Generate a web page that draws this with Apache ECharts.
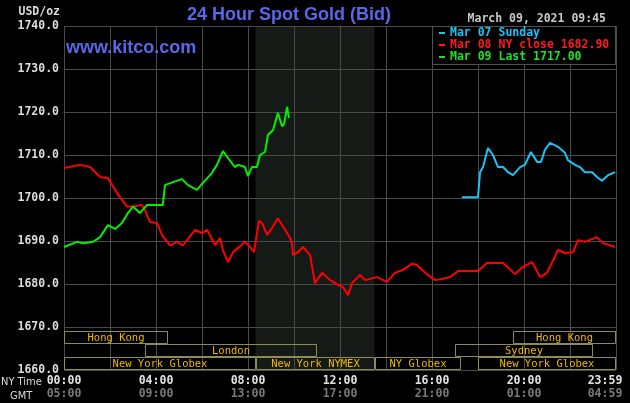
<!DOCTYPE html>
<html>
<head>
<meta charset="utf-8">
<script src="https://cdn.jsdelivr.net/npm/echarts@6/dist/echarts.min.js"></script>
<style>html,body{margin:0;padding:0;background:#000;}#c{width:630px;height:403px;}</style>
</head>
<body>
<div id="c"></div>
<script>
// ---- data (hours in NY time, price USD/oz) ----
const redTimes = [0.0,0.70,1.13,1.57,1.91,2.22,2.43,2.74,3.0,3.39,3.52,3.74,4.04,4.30,4.61,4.91,5.17,5.70,6.0,6.22,6.57,6.78,6.91,7.13,7.35,7.57,7.87,8.09,8.26,8.48,8.61,8.83,9.04,9.30,9.61,9.83,9.91,9.96,10.17,10.39,10.70,10.91,11.22,11.57,11.91,12.13,12.35,12.52,12.87,13.09,13.61,14.04,14.39,14.74,15.13,15.35,15.70,16.13,16.48,16.78,17.13,18.0,18.39,18.83,19.09,19.61,19.96,20.35,20.70,21.0,21.48,21.78,22.13,22.35,22.65,23.17,23.43,23.96];
const redPrices = [1707.0,1707.7,1707.2,1704.9,1704.6,1701.9,1700.2,1698.0,1698.0,1698.4,1697.2,1694.4,1694.2,1691.0,1689.0,1689.8,1689.0,1692.6,1691.8,1692.6,1689.0,1690.7,1687.9,1685.1,1687.4,1688.4,1689.8,1688.6,1687.4,1694.7,1694.2,1691.4,1693.0,1695.3,1692.6,1690.7,1689.5,1686.7,1687.4,1688.6,1686.7,1680.2,1682.6,1680.9,1679.8,1679.3,1677.4,1680.2,1682.1,1680.9,1681.6,1680.5,1682.6,1683.3,1684.7,1684.4,1682.6,1680.9,1681.2,1681.6,1683.0,1683.0,1684.9,1684.9,1684.9,1682.3,1684.0,1685.1,1681.6,1682.6,1687.9,1687.2,1687.4,1690.2,1689.8,1690.9,1689.5,1688.6];
const greenTimes = [0.0,0.57,0.83,1.26,1.57,1.91,2.22,2.52,2.78,3.0,3.30,3.61,4.30,4.39,4.74,5.13,5.39,5.78,6.04,6.43,6.65,6.91,7.13,7.43,7.57,7.87,8.0,8.17,8.39,8.52,8.74,8.87,9.09,9.30,9.48,9.57,9.70,9.78];
const greenPrices = [1688.6,1689.8,1689.5,1689.8,1690.9,1693.7,1692.8,1694.2,1696.5,1698.0,1696.5,1698.4,1698.4,1703.0,1703.7,1704.4,1703.0,1701.9,1703.5,1705.8,1707.7,1710.9,1709.3,1707.2,1707.7,1707.2,1705.1,1707.2,1707.2,1710.0,1710.7,1714.7,1715.8,1719.8,1716.7,1717.2,1721.2,1718.6];
const cyanTimes = [17.30,18.0,18.09,18.22,18.43,18.65,18.87,19.09,19.30,19.52,19.83,20.04,20.30,20.57,20.74,20.91,21.13,21.48,21.78,21.91,22.22,22.43,22.65,22.96,23.17,23.39,23.65,23.96];
const cyanPrices = [1700.2,1700.2,1706.0,1707.2,1711.6,1710.0,1707.2,1707.2,1706.0,1705.3,1707.2,1707.7,1710.7,1708.4,1708.4,1711.2,1712.8,1711.9,1710.5,1708.8,1707.7,1707.2,1706.0,1706.0,1704.9,1704.0,1705.3,1706.0];

const seriesNames = ['Mar 07 Sunday', 'Mar 08 NY close 1682.90', 'Mar 09 Last 1717.00'];

const sessionNames = ['Hong Kong','London','New York Globex','New York NYMEX','NY Globex','Hong Kong','Sydney','New York Globex'];
const sessionStart = [0, 3.5, 0, 8.33, 13.5, 19.5, 17.0, 18.0];
const sessionEnd   = [4.5, 11.0, 8.33, 13.5, 17.25, 24.0, 23.0, 24.0];
const sessionRow   = [0, 1, 2, 2, 2, 0, 1, 2];

const nymexShade = [[8.33, 13.5]];

const yMin = 1660, yMax = 1740, yStep = 10;
const xMin = 0, xMax = 24, xStep = 2;

// ---- build ----
const pair = (t, p) => t.map((v, i) => [v, p[i]]);
const pad = n => (n < 10 ? '0' : '') + n;
const MONO = '"DejaVu Sans Mono", monospace';
const COND = '"DejaVu Sans Condensed", "DejaVu Sans", sans-serif';

const chart = echarts.init(document.getElementById('c'), null, {renderer: 'canvas'});

const option = {
  backgroundColor: '#000',
  animation: false,
  grid: {left: 64, right: 14, top: 26, bottom: 33, containLabel: false, outerBoundsMode: 'none'},
  xAxis: {
    type: 'value', min: xMin, max: xMax, interval: xStep, z: 1,
    axisLine: {show: false}, axisTick: {show: false},
    splitLine: {show: true, lineStyle: {color: '#4a4a4a', width: 1}},
    axisLabel: {
      margin: 5, showMinLabel: true, showMaxLabel: true, hideOverlap: false,
      formatter: function (v) {
        if (v % 4 !== 0 && v !== 24) return '';
        if (v === 24) return '{la|23:59}\n{ga|04:59}';
        return '{n|' + pad(v) + ':00}\n{g|' + pad((v + 5) % 24) + ':00}';
      },
      rich: {
        n: {fontFamily: MONO, fontSize: 11.5, fontWeight: 'bold', color: '#e2e2e2', lineHeight: 13},
        g: {fontFamily: MONO, fontSize: 11.5, fontWeight: 'bold', color: '#7a7a7a', lineHeight: 13},
        la: {fontFamily: MONO, fontSize: 11.5, fontWeight: 'bold', color: '#e2e2e2', lineHeight: 13, padding: [0, 22, 0, 0]},
        ga: {fontFamily: MONO, fontSize: 11.5, fontWeight: 'bold', color: '#7a7a7a', lineHeight: 13, padding: [0, 22, 0, 0]}
      }
    }
  },
  yAxis: {
    type: 'value', min: yMin, max: yMax, interval: yStep, z: 1,
    axisLine: {show: false}, axisTick: {show: false},
    splitLine: {show: true, lineStyle: {color: '#4a4a4a', width: 1}},
    axisLabel: {
      margin: 5, color: '#dcdcdc', fontFamily: MONO, fontSize: 11.5, fontWeight: 'bold',
      formatter: v => v.toFixed(1)
    }
  },
  legend: {
    orient: 'vertical', left: 439, top: 27, padding: 0, itemGap: 0, z: 10,
    icon: 'rect', itemWidth: 6, itemHeight: 2,
    textStyle: {fontFamily: MONO, fontSize: 11.5, fontWeight: 'bold', lineHeight: 12},
    data: [
      {name: seriesNames[0], textStyle: {color: '#18c4f4'}},
      {name: seriesNames[1], textStyle: {color: '#ff1a1a'}},
      {name: seriesNames[2], textStyle: {color: '#22e022'}}
    ],
    selectedMode: false
  },
  graphic: [
    {type: 'rect', z: 5, shape: {x: 432.5, y: 26.5, width: 183, height: 38}, style: {fill: '#000', stroke: '#505050', lineWidth: 1}},
    {type: 'text', z: 5, style: {text: '24 Hour Spot Gold (Bid)', x: 289, y: 15, align: 'center', verticalAlign: 'middle', fill: '#5868e8', font: 'bold 18px "Liberation Sans", Arial, sans-serif'}},
    {type: 'text', z: 5, style: {text: 'www.kitco.com', x: 66, y: 48, align: 'left', verticalAlign: 'middle', fill: '#5868e8', font: 'bold 18px "Liberation Sans", Arial, sans-serif'}},
    {type: 'text', z: 5, style: {text: 'March 09, 2021 09:45', x: 606, y: 19, align: 'right', verticalAlign: 'middle', fill: '#c8c8c8', font: 'bold 11.5px ' + MONO}},
    {type: 'text', z: 5, style: {text: 'USD/oz', x: 60, y: 12, align: 'right', verticalAlign: 'middle', fill: '#dcdcdc', font: 'bold 11.5px ' + MONO}},
    {type: 'text', z: 5, style: {text: 'NY Time', x: 1, y: 382, align: 'left', verticalAlign: 'middle', fill: '#dcdcdc', font: '11px ' + COND}},
    {type: 'text', z: 5, style: {text: 'GMT', x: 10, y: 396, align: 'left', verticalAlign: 'middle', fill: '#dcdcdc', font: '11px ' + COND}}
  ],
  series: [
    {
      type: 'custom', name: 'shade', z: 0, silent: true,
      data: nymexShade,
      encode: {x: [0, 1]},
      renderItem: function (params, api) {
        const a = api.coord([api.value(0), yMax]);
        const b = api.coord([api.value(1), yMin]);
        return {type: 'rect', shape: {x: a[0], y: a[1], width: b[0] - a[0], height: b[1] - a[1]}, style: {fill: '#161a16'}};
      }
    },
    {
      name: seriesNames[0], type: 'line', data: pair(cyanTimes, cyanPrices),
      showSymbol: false, color: '#18c4f4', lineStyle: {width: 2, color: '#18c4f4'}, z: 3
    },
    {
      name: seriesNames[1], type: 'line', data: pair(redTimes, redPrices),
      showSymbol: false, color: '#ff1a1a', lineStyle: {width: 2, color: '#ff0000'}, z: 3
    },
    {
      name: seriesNames[2], type: 'line', data: pair(greenTimes, greenPrices),
      showSymbol: false, color: '#22e022', lineStyle: {width: 2, color: '#00f000'}, z: 3
    },
    {
      type: 'custom', name: 'sessions', z: 4, silent: true, clip: false,
      data: sessionStart.map((s, i) => [s, sessionEnd[i], sessionRow[i]]),
      encode: {x: [0, 1]},
      renderItem: function (params, api) {
        const s = api.value(0), e = api.value(1), row = api.value(2);
        const x0 = Math.round(api.coord([s, yMin])[0]);
        const x1 = Math.round(api.coord([e, yMin])[0]);
        const bottom = Math.round(api.coord([0, yMin])[1]);
        const rh = 13;
        const y0 = bottom - (3 - row) * rh;
        return {
          type: 'group',
          children: [
            {type: 'rect', shape: {x: x0 + 0.5, y: y0 + 0.5, width: x1 - x0 - 1, height: rh - 1}, style: {fill: 'none', stroke: '#8c8c58', lineWidth: 1}},
            {type: 'text', style: {text: sessionNames[params.dataIndex], x: (x0 + x1) / 2, y: y0 + rh / 2 + 0.5, align: 'center', verticalAlign: 'middle', fill: '#f0b800', font: '10.5px ' + MONO}}
          ]
        };
      }
    }
  ]
};
chart.setOption(option);
</script>
</body>
</html>
